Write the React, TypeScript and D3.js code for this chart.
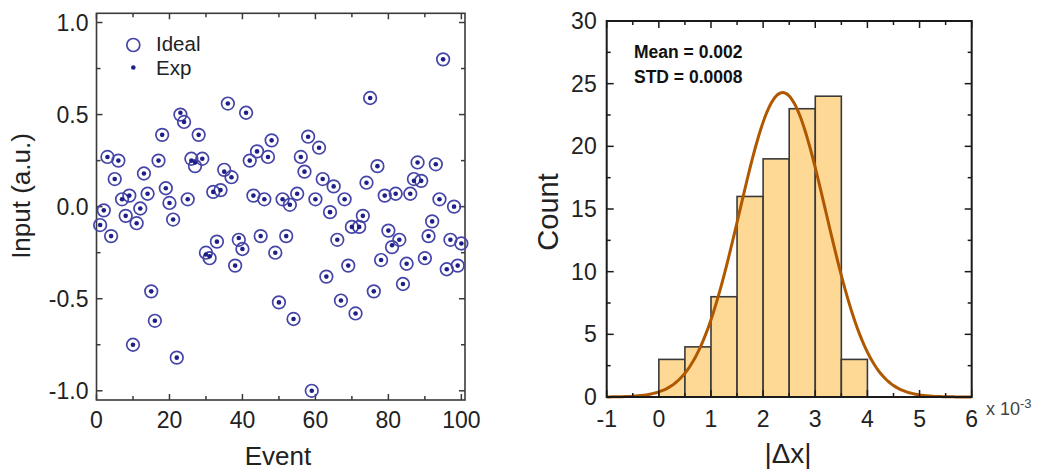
import React from 'react';
import * as d3 from 'd3';

// left panel: event vs input
const EVENTS = d3.range(1, 101);
const IDEAL = [
  -0.10, -0.02, 0.27, -0.16, 0.15, 0.25, 0.04, -0.05, 0.06, -0.75,
  -0.09, -0.01, 0.18, 0.07, -0.46, -0.62, 0.25, 0.39, 0.10, 0.02,
  -0.07, -0.82, 0.50, 0.46, 0.04, 0.26, 0.22, 0.39, 0.26, -0.25,
  -0.28, 0.08, -0.19, 0.09, 0.20, 0.56, 0.16, -0.32, -0.18, -0.23,
  0.51, 0.25, 0.06, 0.30, -0.16, 0.04, 0.27, 0.36, -0.25, -0.52,
  0.04, -0.16, 0.01, -0.61, 0.07, 0.27, 0.19, 0.38, -1.00, 0.04,
  0.32, 0.15, -0.38, -0.03, 0.11, -0.18, -0.51, 0.04, -0.32, -0.11,
  -0.58, -0.11, -0.05, 0.13, 0.59, -0.46, 0.22, -0.29, 0.06, -0.13,
  -0.22, 0.07, -0.18, -0.42, -0.31, 0.07, 0.15, 0.24, 0.14, -0.28,
  -0.16, -0.08, 0.23, 0.04, 0.80, -0.34, -0.18, 0.00, -0.32, -0.20
];
const EXP = [
  -0.10, -0.02, 0.27, -0.16, 0.15, 0.25, 0.04, -0.05, 0.06, -0.75,
  -0.09, -0.01, 0.18, 0.07, -0.46, -0.62, 0.25, 0.39, 0.10, 0.02,
  -0.07, -0.82, 0.51, 0.46, 0.04, 0.25, 0.24, 0.39, 0.26, -0.26,
  -0.27, 0.08, -0.19, 0.09, 0.19, 0.56, 0.16, -0.32, -0.17, -0.23,
  0.51, 0.25, 0.06, 0.30, -0.16, 0.04, 0.27, 0.36, -0.25, -0.52,
  0.04, -0.16, 0.01, -0.61, 0.07, 0.27, 0.19, 0.38, -1.00, 0.04,
  0.32, 0.15, -0.38, -0.03, 0.11, -0.18, -0.51, 0.04, -0.32, -0.11,
  -0.58, -0.11, -0.05, 0.13, 0.59, -0.46, 0.22, -0.29, 0.06, -0.13,
  -0.21, 0.07, -0.18, -0.42, -0.31, 0.07, 0.14, 0.24, 0.14, -0.28,
  -0.16, -0.08, 0.23, 0.04, 0.80, -0.34, -0.18, 0.00, -0.32, -0.20
];
const LEFT_X_TICKS = [0, 20, 40, 60, 80, 100];
const LEFT_Y_TICKS = [-1.0, -0.5, 0.0, 0.5, 1.0];

// right panel: histogram of |dx| (x 10^-3)
const BIN_EDGES = [0, 0.5, 1, 1.5, 2, 2.5, 3, 3.5, 4];
const COUNTS = [3, 4, 8, 16, 19, 23, 24, 3];
const FIT_MEAN = 2.375;
const FIT_SIGMA = 0.83;
const FIT_AMP = 24.3;
const RIGHT_X_TICKS = [-1, 0, 1, 2, 3, 4, 5, 6];
const RIGHT_Y_TICKS = [0, 5, 10, 15, 20, 25, 30];

const FONT = '"Liberation Sans", Arial, sans-serif';

const LeftPanel = () => {
  const x = d3.scaleLinear().domain([0, 101]).range([96.5, 465]);
  const y = d3.scaleLinear().domain([-1.05, 1.05]).range([400, 13.3]);
  const [x0, x1] = x.range();
  const [y0, y1] = y.range();
  const xMinor = d3.range(0, 101, 10);
  const yMinor = d3.range(-1, 1.01, 0.25);
  const ax = '#3a3a3a';
  return (
    <g>
      {xMinor.map(v => {
        const len = v % 20 === 0 ? 6 : 4;
        return (
          <g key={'xt' + v}>
            <line x1={x(v)} x2={x(v)} y1={y0} y2={y0 - len} stroke={ax} strokeWidth={1.5} />
            <line x1={x(v)} x2={x(v)} y1={y1} y2={y1 + len} stroke={ax} strokeWidth={1.5} />
          </g>
        );
      })}
      {yMinor.map(v => {
        const len = Math.abs((v * 2) % 1) < 1e-6 ? 6 : 4;
        return (
          <g key={'yt' + v}>
            <line x1={x0} x2={x0 + len} y1={y(v)} y2={y(v)} stroke={ax} strokeWidth={1.5} />
            <line x1={x1} x2={x1 - len} y1={y(v)} y2={y(v)} stroke={ax} strokeWidth={1.5} />
          </g>
        );
      })}
      <rect x={x0} y={y1} width={x1 - x0} height={y0 - y1} fill="none" stroke={ax} strokeWidth={1.6} />
      {LEFT_X_TICKS.map(v => (
        <text key={'xl' + v} x={x(v)} y={428} textAnchor="middle" fontSize={23} fill="#222">{v}</text>
      ))}
      {LEFT_Y_TICKS.map(v => (
        <text key={'yl' + v} x={x0 - 8} y={y(v) + 8} textAnchor="end" fontSize={23} fill="#222">{v.toFixed(1)}</text>
      ))}
      <text x={278} y={465} textAnchor="middle" fontSize={26} fill="#222">Event</text>
      <text transform="translate(30,196) rotate(-90)" textAnchor="middle" fontSize={26} fill="#222">Input (a.u.)</text>

      {EVENTS.map((e, i) => (
        <circle key={'c' + e} cx={x(e)} cy={y(IDEAL[i])} r={6.3} fill="none" stroke="#4545a8" strokeWidth={1.7} />
      ))}
      {EVENTS.map((e, i) => (
        <circle key={'d' + e} cx={x(e)} cy={y(EXP[i])} r={2.3} fill="#1f1f88" />
      ))}

      <circle cx={133.3} cy={45} r={6.5} fill="none" stroke="#4545a8" strokeWidth={1.7} />
      <text x={156} y={51} fontSize={20.5} fill="#222">Ideal</text>
      <circle cx={133.3} cy={67.5} r={2.3} fill="#1f1f88" />
      <text x={156} y={74.5} fontSize={20.5} fill="#222">Exp</text>
    </g>
  );
};

const RightPanel = () => {
  const x = d3.scaleLinear().domain([-1, 6]).range([606.7, 971.7]);
  const y = d3.scaleLinear().domain([0, 30]).range([397, 21]);
  const [x0, x1] = x.range();
  const [y0, y1] = y.range();
  const xMinor = d3.range(-1, 6.01, 0.5);
  const yMinor = d3.range(0, 30.01, 2.5);
  const ax = '#1a1a1a';
  const fitPts = d3.range(-1, 6.001, 0.05).map(v => [v, FIT_AMP * Math.exp(-((v - FIT_MEAN) ** 2) / (2 * FIT_SIGMA ** 2))]);
  const line = d3.line<number[]>().x(d => x(d[0])).y(d => y(d[1])).curve(d3.curveBasis);
  return (
    <g>
      {COUNTS.map((c, i) => (
        <rect key={'b' + i} x={x(BIN_EDGES[i])} y={y(c)} width={x(BIN_EDGES[i + 1]) - x(BIN_EDGES[i])} height={y0 - y(c)}
          fill="#fed996" stroke="#3a3a3a" strokeWidth={1.6} />
      ))}
      <path d={line(fitPts) || ''} fill="none" stroke="#b05800" strokeWidth={3} />
      {xMinor.map(v => {
        const len = Math.abs(v % 1) < 1e-6 ? 7 : 4;
        return (
          <g key={'xt' + v}>
            <line x1={x(v)} x2={x(v)} y1={y0} y2={y0 - len} stroke={ax} strokeWidth={1.5} />
            <line x1={x(v)} x2={x(v)} y1={y1} y2={y1 + len} stroke={ax} strokeWidth={1.5} />
          </g>
        );
      })}
      {yMinor.map(v => {
        const len = v % 5 === 0 ? 7 : 4;
        return (
          <g key={'yt' + v}>
            <line x1={x0} x2={x0 + len} y1={y(v)} y2={y(v)} stroke={ax} strokeWidth={1.5} />
            <line x1={x1} x2={x1 - len} y1={y(v)} y2={y(v)} stroke={ax} strokeWidth={1.5} />
          </g>
        );
      })}
      <rect x={x0} y={y1} width={x1 - x0} height={y0 - y1} fill="none" stroke={ax} strokeWidth={2} />
      {RIGHT_X_TICKS.map(v => (
        <text key={'xl' + v} x={x(v)} y={427} textAnchor="middle" fontSize={23} fill="#222">{v}</text>
      ))}
      {RIGHT_Y_TICKS.map(v => (
        <text key={'yl' + v} x={x0 - 10} y={y(v) + 8} textAnchor="end" fontSize={23} fill="#222">{v}</text>
      ))}
      <text x={986} y={415} fontSize={18} fill="#444">x 10<tspan dy={-7} fontSize={13}>-3</tspan></text>
      <text x={788} y={463} textAnchor="middle" fontSize={28} fill="#222">|Δx|</text>
      <text transform="translate(558,212) rotate(-90)" textAnchor="middle" fontSize={29} fill="#222">Count</text>
      <text x={634} y={58} fontSize={17.5} fontWeight="bold" fill="#111">Mean = 0.002</text>
      <text x={634} y={82.5} fontSize={17.5} fontWeight="bold" fill="#111">STD = 0.0008</text>
    </g>
  );
};

export default function App() {
  return (
    <div style={{ position: 'absolute', left: 0, top: 0 }}>
      <svg width={1045} height={473} style={{ display: 'block', fontFamily: FONT, background: '#fff' }}>
        <LeftPanel />
        <RightPanel />
      </svg>
    </div>
  );
}
